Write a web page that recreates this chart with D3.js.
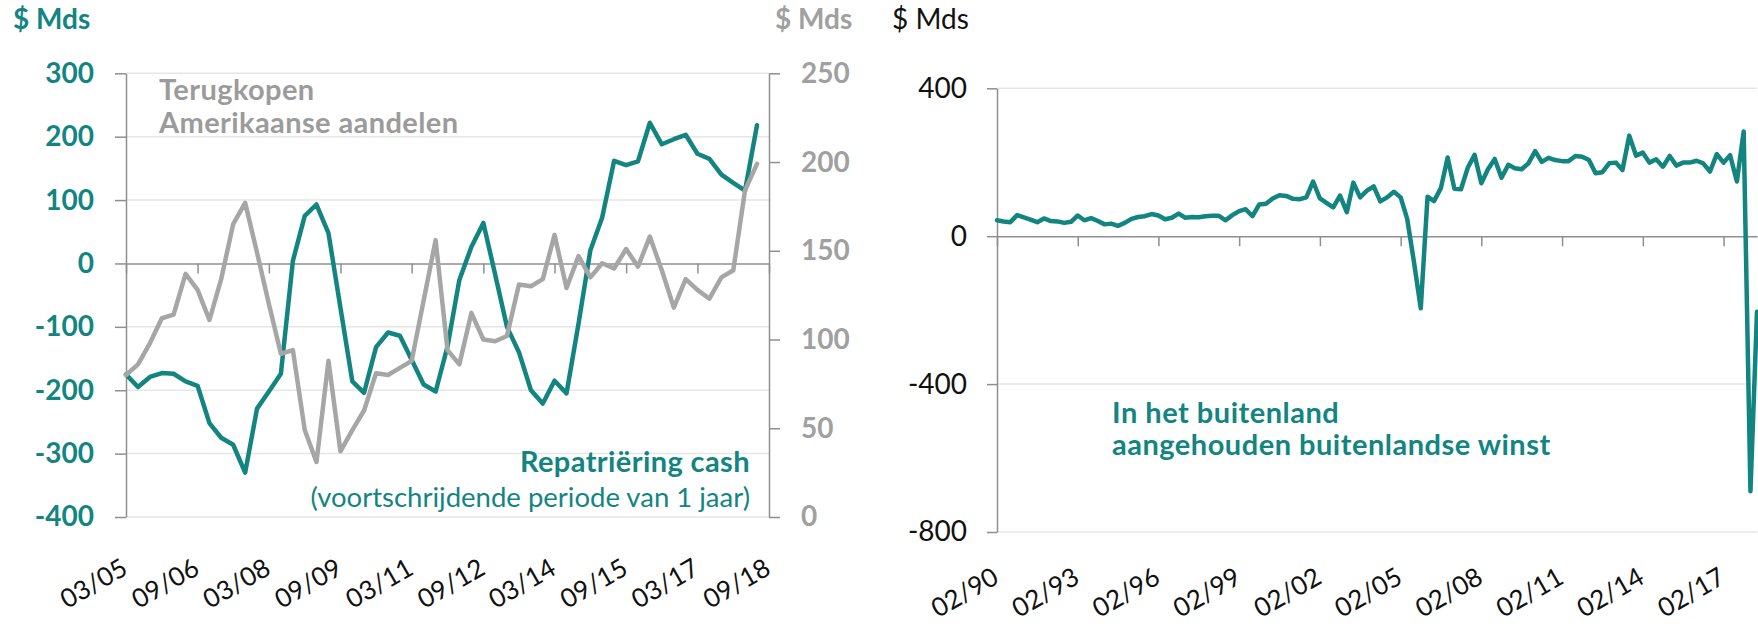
<!DOCTYPE html>
<html><head><meta charset="utf-8">
<script src="https://cdn.jsdelivr.net/npm/d3@7"></script>
<style>
body{margin:0;background:#fff}
svg{display:block;font-family:Lato,"Open Sans",sans-serif}
</style>
</head><body>
<svg id="c" width="1758" height="624"></svg>
<script>
// ---------- Left chart data (quarterly, from 03/05) ----------
const repatStart = "03/05";
const repatriation = [-175,-195,-179,-173,-174,-186,-193,-252,-275,-286,
  -330,-229,-202,-174,4,75,93,48,-70,-186,
  -204,-132,-109,-114,-152,-191,-202,-131,-26,26,
  64,-18,-100,-140,-200,-221,-185,-205,-95,21,
  72,162,155,161,222,188,196,203,173,165,
  140,127,115,218];
const buybacks = [80,86,98,112,114,137,128,111,134,165,
  177,149,120,92,94,49,31,88,37,49,
  60,81,80,84,88,122,156,94,86,115,
  100,99,102,131,130,134,159,129,147,135,
  143,140,151,141,158,139,118,134,128,123,
  135,139,184,199];
const leftTickLabels = ["03/05","09/06","03/08","09/09","03/11","09/12","03/14","09/15","03/17","09/18"];
const leftYTicks = [300,200,100,0,-100,-200,-300,-400];
const leftY2Ticks = [250,200,150,100,50,0];

// ---------- Right chart data (quarterly, from 02/90) ----------
const earningsStart = "02/90";
const earnings = [43,40,38,57,51,45,38,48,41,40,
  36,39,56,43,49,41,32,34,28,36,
  47,52,54,60,56,46,50,61,50,52,
  51,54,55,55,43,57,68,73,54,86,
  88,102,111,109,101,100,105,148,102,90,
  78,110,65,145,105,123,135,94,105,120,
  105,47,-70,-195,107,95,130,213,128,127,
  185,220,143,181,209,158,193,184,181,197,
  230,201,212,206,203,203,217,215,206,170,
  173,197,199,179,272,218,226,199,208,188,
  217,191,199,199,204,197,175,222,199,219,
  148,283,-690,-204];
const rightTickLabels = ["02/90","02/93","02/96","02/99","02/02","02/05","02/08","02/11","02/14","02/17"];
const rightYTicks = [400,0,-400,-800];

const TEAL = "#138581", GREY = "#a6a6a6", GREYTXT = "#a0a0a0";
const AXIS = "#8f8f8f", GRID = "#e6e6e6";
const parse = d3.timeParse("%m/%y");
const quarters = (start, n) => d3.range(n).map(i => d3.timeMonth.offset(parse(start), 3 * i));

const svg = d3.select("#c");

// ================= LEFT CHART =================
{
  const dates = quarters(repatStart, repatriation.length);
  const tickDates = leftTickLabels.map(parse);
  const x = d3.scaleTime().domain([tickDates[0], tickDates[tickDates.length - 1]]).range([126, 769]);
  const y = d3.scaleLinear().domain([-400, 300]).range([517, 73.3]);
  const y2 = d3.scaleLinear().domain([0, 250]).range([517, 73.3]);
  const g = svg.append("g");

  g.selectAll("line.grid").data(leftYTicks.filter(d => d !== 0)).join("line")
    .attr("x1", 126).attr("x2", 769).attr("y1", d => y(d)).attr("y2", d => y(d))
    .attr("stroke", GRID).attr("stroke-width", 1.5);

  const ax = g.append("g").attr("transform", "translate(126,0)")
    .call(d3.axisLeft(y).tickValues(leftYTicks).tickSize(11).tickSizeOuter(0).tickPadding(21).tickFormat(d3.format("d")));
  ax.select(".domain").attr("stroke", AXIS).attr("stroke-width", 1.5);
  ax.selectAll(".tick line").attr("stroke", AXIS).attr("stroke-width", 1.5);
  ax.selectAll(".tick text").attr("fill", TEAL).attr("font-size", 28).attr("font-weight", 700)
    .attr("font-family", "Lato").text(d => d < 0 ? "-" + Math.abs(d) : d);

  const ax2 = g.append("g").attr("transform", "translate(769,0)")
    .call(d3.axisRight(y2).tickValues(leftY2Ticks).tickSize(11).tickSizeOuter(0).tickPadding(21).tickFormat(d3.format("d")));
  ax2.select(".domain").attr("stroke", AXIS).attr("stroke-width", 1.5);
  ax2.selectAll(".tick line").attr("stroke", AXIS).attr("stroke-width", 1.5);
  ax2.selectAll(".tick text").attr("fill", GREYTXT).attr("font-size", 28).attr("font-weight", 700).attr("font-family", "Lato");

  const axx = g.append("g").attr("transform", `translate(0,${y(0)})`)
    .call(d3.axisBottom(x).tickValues(tickDates).tickSize(10).tickSizeOuter(0).tickFormat(""));
  axx.select(".domain").attr("stroke", AXIS).attr("stroke-width", 1.5);
  axx.selectAll(".tick line").attr("stroke", AXIS).attr("stroke-width", 1.5);

  g.selectAll("text.xl").data(leftTickLabels).join("text")
    .attr("transform", d => `translate(${x(parse(d)) - 6},557) rotate(-30)`)
    .attr("text-anchor", "end").attr("dy", "0.72em")
    .attr("font-size", 26).attr("fill", "#111").text(d => d);

  const lineL = d3.line().x((d, i) => x(dates[i])).y(d => y(d));
  const lineR = d3.line().x((d, i) => x(dates[i])).y(d => y2(d));
  g.append("path").datum(repatriation).attr("d", lineL).attr("fill", "none")
    .attr("stroke", TEAL).attr("stroke-width", 4.5).attr("stroke-linejoin", "round").attr("stroke-linecap", "round");
  g.append("path").datum(buybacks).attr("d", lineR).attr("fill", "none")
    .attr("stroke", GREY).attr("stroke-width", 4.5).attr("stroke-linejoin", "round").attr("stroke-linecap", "round");

  g.append("text").attr("x", 13).attr("y", 29).attr("fill", TEAL).attr("font-size", 28).attr("font-weight", 700).text("$ Mds");
  g.append("text").attr("x", 775).attr("y", 29).attr("fill", GREYTXT).attr("font-size", 28).attr("font-weight", 700).text("$ Mds");
  const t1 = g.append("text").attr("fill", "#9b9b9b").attr("font-size", 29).attr("font-weight", 700).attr("letter-spacing", 0.4);
  t1.append("tspan").attr("x", 159).attr("y", 100).text("Terugkopen");
  t1.append("tspan").attr("x", 159).attr("y", 133).text("Amerikaanse aandelen");
  g.append("text").attr("x", 750).attr("y", 472).attr("text-anchor", "end").attr("fill", TEAL)
    .attr("font-size", 29).attr("font-weight", 700).attr("letter-spacing", 0.4).text("Repatriëring cash");
  g.append("text").attr("x", 750).attr("y", 507).attr("text-anchor", "end").attr("fill", TEAL)
    .attr("font-size", 27.5).text("(voortschrijdende periode van 1 jaar)");
}

// ================= RIGHT CHART =================
{
  const dates = quarters(earningsStart, earnings.length);
  const tickDates = rightTickLabels.map(parse);
  const x = d3.scaleTime().domain([dates[0], dates[dates.length - 1]]).range([997, 1757]);
  const y = d3.scaleLinear().domain([-800, 400]).range([532, 88.3]);
  const g = svg.append("g");

  g.selectAll("line.grid").data(rightYTicks.filter(d => d !== 0)).join("line")
    .attr("x1", 997).attr("x2", 1757).attr("y1", d => y(d)).attr("y2", d => y(d))
    .attr("stroke", GRID).attr("stroke-width", 1.5);

  const ax = g.append("g").attr("transform", "translate(997,0)")
    .call(d3.axisLeft(y).tickValues(rightYTicks).tickSize(10).tickSizeOuter(0).tickPadding(20).tickFormat(d3.format("d")));
  ax.select(".domain").attr("stroke", AXIS).attr("stroke-width", 1.5);
  ax.selectAll(".tick line").attr("stroke", AXIS).attr("stroke-width", 1.5);
  ax.selectAll(".tick text").attr("fill", "#111").attr("font-size", 28).attr("font-family", "Lato")
    .text(d => d < 0 ? "-" + Math.abs(d) : d);

  const axx = g.append("g").attr("transform", `translate(0,${y(0)})`)
    .call(d3.axisBottom(x).tickValues(tickDates).tickSize(10).tickSizeOuter(0).tickFormat(""));
  axx.select(".domain").attr("stroke", AXIS).attr("stroke-width", 1.5);
  axx.selectAll(".tick line").attr("stroke", AXIS).attr("stroke-width", 1.5);

  g.selectAll("text.xl").data(rightTickLabels).join("text")
    .attr("transform", d => `translate(${x(parse(d)) - 6},566) rotate(-30)`)
    .attr("text-anchor", "end").attr("dy", "0.72em")
    .attr("font-size", 26).attr("fill", "#111").text(d => d);

  const line = d3.line().x((d, i) => x(dates[i])).y(d => y(d));
  g.append("path").datum(earnings).attr("d", line).attr("fill", "none")
    .attr("stroke", TEAL).attr("stroke-width", 4.5).attr("stroke-linejoin", "round").attr("stroke-linecap", "round");

  g.append("text").attr("x", 892).attr("y", 29).attr("fill", "#111").attr("font-size", 28).text("$ Mds");
  const t = g.append("text").attr("fill", TEAL).attr("font-size", 29).attr("font-weight", 700).attr("letter-spacing", 0.5);
  t.append("tspan").attr("x", 1112).attr("y", 423).text("In het buitenland");
  t.append("tspan").attr("x", 1112).attr("y", 455).text("aangehouden buitenlandse winst");
}
</script>
</body></html>
